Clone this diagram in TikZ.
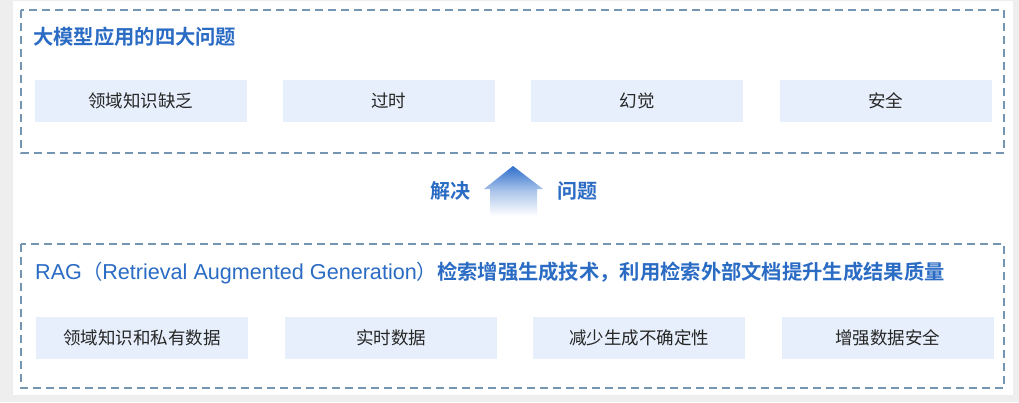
\documentclass[tikz,border=0pt]{standalone}
\usepackage{fontspec}
\setmainfont{Noto Sans CJK SC}
\newfontfamily\cjk{Noto Sans CJK SC}
\newfontfamily\cjkb{Noto Sans CJK SC Bold}
\newfontfamily\lat{Liberation Sans}
\usetikzlibrary{positioning}
\definecolor{bgc}{HTML}{EEEEEE}
\definecolor{dashc}{HTML}{7496B2}
\definecolor{boxc}{HTML}{E6EFFB}
\definecolor{titc}{HTML}{2A6BC4}
\definecolor{arrc}{HTML}{2F6FCC}
\tikzset{
  frame/.style={draw=dashc, line width=1.2pt, dash pattern=on 8pt off 5pt},
  item/.style={fill=boxc, minimum width=212pt, minimum height=42pt, inner sep=0pt, font=\cjk\fontsize{17.5}{18}\selectfont, text=black!85},
  ttl/.style={anchor=west, inner sep=0pt, text=titc, font=\fontsize{20.3}{20}\selectfont},
  lbl/.style={inner sep=0pt, text=titc, font=\cjkb\fontsize{20}{20}\selectfont},
}
\begin{document}
\begin{tikzpicture}[x=1pt,y=-1pt]
\useasboundingbox (0,0) rectangle (1019,402);
\fill[bgc] (0,0) rectangle (1019,402);
\fill[white] (13,1) rectangle (1013,395);
% top frame
\draw[frame] (21,10) rectangle (1004,153);
\node[ttl, font=\cjkb\fontsize{20.3}{20}\selectfont] (t1) at (33,37) {大模型应用的四大问题};
\node[item] (a1) at (140.5,100.5) {领域知识缺乏};
\node[item] (a2) at (388.5,100.5) {过时};
\node[item] (a3) at (637,100.5) {幻觉};
\node[item] (a4) at (885.5,100.5) {安全};
% arrow
\shade[top color=arrc, bottom color=white, middle color=arrc!40]
  (513,166) -- (543,189) -- (537,189) -- (537,216) -- (490,216) -- (490,189) -- (484,189) -- cycle;
\node[lbl] (s1) at (450,191) {解决};
\node[lbl] (s2) at (577,191) {问题};
% bottom frame
\draw[frame] (21,244) rectangle (1004,388);
\node[ttl] (t2) at (35,273) {{\lat\fontsize{21.6}{20}\selectfont RAG}（{\lat\fontsize{21.6}{20}\selectfont Retrieval Augmented Generation}）{\cjkb 检索增强生成技术，利用检索外部文档提升生成结果质量}};
\node[item] (b1) at (142,337.5) {领域知识和私有数据};
\node[item] (b2) at (391,337.5) {实时数据};
\node[item] (b3) at (639,337.5) {减少生成不确定性};
\node[item] (b4) at (887.5,337.5) {增强数据安全};
\end{tikzpicture}
\end{document}
